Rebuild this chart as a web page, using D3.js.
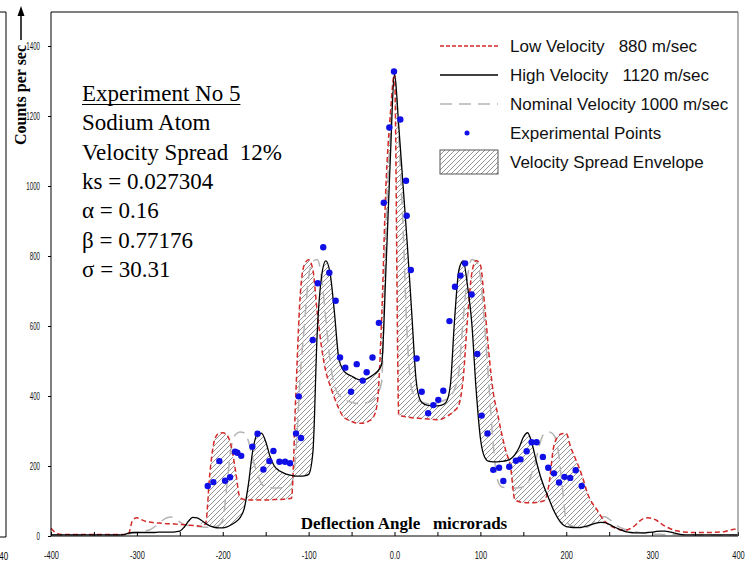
<!DOCTYPE html>
<html lang="en">
<head>
<meta charset="UTF-8">
<title>Experiment No 5 - Sodium Atom</title>
<script src="https://d3js.org/d3.v7.min.js"></script>
<style>
  html, body { margin: 0; padding: 0; background: #fff; }
  svg { display: block; }
  .tick text { font-family: "Liberation Sans", Arial, sans-serif; font-size: 11px; fill: #111; }
  .serif { font-family: "Liberation Serif", "Times New Roman", serif; fill: #000; white-space: pre; }
  .legend text { font-family: "Liberation Sans", Arial, sans-serif; font-size: 17px; fill: #111; white-space: pre; }
</style>
</head>
<body>
<div id="chart"></div>
<script>
// deflection angle grid, microrads (step 5)
const angles = d3.range(-400, 401, 5);

// counts per sec, one value per angle (rows of 10 = 50 microrads)
const highVelocity = [
  3, 3, 3, 3, 3, 3, 3, 3, 3, 3,                  // -400
  3, 3, 3, 3, 3, 3, 3, 4, 8, 10,                 // -350
  10, 10, 10, 10, 10, 11, 11, 11, 11, 12,        // -300
  14, 25, 42, 53, 52, 45, 36, 29, 25, 23,        // -250
  23, 26, 32, 40, 52, 78, 150, 245, 290, 294,    // -200
  270, 228, 200, 188, 181, 176, 173, 171, 171, 172, // -150
  176, 240, 580, 740, 786, 751, 640, 510, 475, 463, // -100
  457, 450, 446, 447, 452, 460, 470, 490, 760, 1070, // -50
  1320, 1170, 1000, 830, 640, 450, 388, 376, 373, 372, // 0
  372, 374, 382, 430, 620, 760, 786, 715, 608, 420,  // 50
  280, 225, 213, 212, 212, 213, 215, 220, 232, 252,  // 100
  282, 295, 265, 215, 170, 135, 105, 75, 52, 35,     // 150
  27, 25, 24, 24, 26, 29, 33, 37, 39, 38,            // 200
  33, 27, 21, 16, 12, 10, 9, 9, 9, 10,               // 250
  11, 13, 14, 14, 12, 9, 6, 4, 3, 3,                 // 300
  3, 3, 3, 3, 3, 3, 3, 3, 3, 3,                      // 350
  3                                                   // 400
];

const lowVelocity = [
  22, 10, 5, 4, 4, 4, 4, 4, 4, 4,
  4, 4, 4, 4, 4, 4, 4, 4, 5, 45,
  52, 47, 42, 40, 38, 37, 36, 35, 35, 34,
  33, 32, 31, 30, 29, 28, 35, 180, 270, 293,
  295, 288, 255, 185, 110, 104, 103, 103, 103, 103,
  103, 103, 104, 104, 105, 106, 108, 400, 680, 775,
  789, 760, 640, 540, 470, 430, 395, 365, 342, 333,
  327, 323, 322, 323, 328, 338, 380, 620, 1000, 1200,
  1320, 345, 342, 340, 338, 337, 336, 335, 334, 333,
  332, 334, 340, 348, 358, 375, 450, 620, 750, 787,
  775, 660, 520, 410, 350, 290, 240, 200, 105, 98,
  96, 95, 95, 96, 98, 102, 150, 250, 283, 292,
  293, 255, 225, 195, 160, 120, 95, 78, 58, 42,
  32, 25, 20, 17, 17, 22, 30, 42, 50, 52,
  50, 45, 36, 28, 22, 17, 14, 12, 11, 10,
  10, 10, 10, 10, 10, 11, 12, 13, 16, 19,
  22
];

const nominalVelocity = [
  3, 3, 3, 3, 3, 3, 3, 3, 3, 3,
  3, 3, 3, 3, 3, 3, 3, 4, 6, 8,
  10, 12, 15, 18, 25, 35, 45, 52, 54, 48,
  40, 33, 30, 28, 27, 26, 25, 25, 26, 30,
  45, 150, 255, 290, 297, 295, 270, 220, 180, 150,
  140, 138, 137, 137, 138, 140, 150, 230, 450, 600,
  740, 785, 790, 740, 620, 500, 430, 405, 392, 386,
  382, 379, 378, 379, 383, 390, 405, 440, 880, 1140,
  1320, 1140, 880, 560, 420, 395, 385, 380, 378, 378,
  380, 385, 390, 400, 420, 470, 620, 740, 790, 785,
  740, 600, 430, 260, 160, 140, 138, 137, 137, 138,
  140, 150, 180, 220, 270, 295, 297, 290, 255, 150,
  45, 30, 26, 25, 25, 26, 35, 48, 54, 55,
  48, 38, 28, 22, 18, 15, 12, 10, 8, 7,
  6, 5, 5, 4, 4, 4, 4, 3, 3, 3,
  3, 3, 3, 3, 3, 3, 3, 3, 3, 3,
  3
];

// experimental points
const pointAngle = [
  -217.5, -211, -204, -197.3, -191.5, -185.7, -183, -178.5, -165.5, -159.5,
  -152.7, -145.7, -141, -134, -127.5, -121.7, -114.7, -108.8, -111.5,
  -95.2, -89.4, -83, -75.9, -68.5, -63.4, -57.3, -50.6, -44, -37, -32.4,
  -25.6, -18.2, -12.5, -6, -0.6,
  6.8, 13.4, 14.2, 19, 25.8, 31.7, 39.2, 45.2, 51, 56.8,
  64, 70.4, 76.8, 82.2, 89.8, 96.4, 101.5, 108.3, 115, 121.8,
  126.7, 133.6, 141.4, 146.7, 153.9, 159.7, 165.5, 172.8, 179, 185.7,
  191.6, 198, 204.6, 211, 218
];
const pointCounts = [
  143, 154, 214, 158, 168, 241, 238, 229, 255, 292,
  190, 214, 243, 212, 212, 208, 293, 280, 399,
  560, 722, 825, 752, 672, 510, 481, 412, 491, 444, 468,
  510, 609, 952, 1167, 1327,
  1190, 1015, 915, 760, 507, 412, 351, 374, 389, 415,
  614, 712, 744, 779, 690, 520, 344, 293, 189, 195,
  157, 198, 215, 219, 242, 268, 268, 226, 195, 179,
  153, 169, 166, 188, 143
];

const envelopeRange = [-225, 245];

const xTicks = [-400, -300, -200, -100, 0, 100, 200, 300, 400];
const xTickLabels = ["-400", "-300", "-200", "-100", "0.0", "100", "200", "300", "400"];
const xMinorTicks = [-350, -250, -150, -50, 50, 150, 250, 350];
const yTicks = [0, 200, 400, 600, 800, 1000, 1200, 1400];
const yTickLabels = ["0", "200", "400", "600", "800", "1000", "1200", "1400"];

const notes = ["Experiment No 5", "Sodium Atom", "Velocity Spread  12%", "ks = 0.027304",
               "\u03b1 = 0.16", "\u03b2 = 0.77176", "\u03c3 = 30.31"];
const legendLabels = ["Low Velocity   880 m/sec", "High Velocity   1120 m/sec",
                      "Nominal Velocity 1000 m/sec", "Experimental Points", "Velocity Spread Envelope"];

const width = 755, height = 562;
const plotLeft = 51, plotRight = 738, plotTop = 12, plotBottom = 536;

const x = d3.scaleLinear().domain([-400, 400]).range([plotLeft, plotRight]);
const y = d3.scaleLinear().domain([0, 1500]).range([plotBottom, 11]);

const svg = d3.select("#chart").append("svg")
    .attr("width", width)
    .attr("height", height);

svg.append("defs").append("pattern")
    .attr("id", "hatch")
    .attr("patternUnits", "userSpaceOnUse")
    .attr("width", 5).attr("height", 5)
  .append("path")
    .attr("d", "M-1,1 l2,-2 M0,5 l5,-5 M4,6 l2,-2")
    .attr("stroke", "#7a7a7a")
    .attr("stroke-width", 0.8);

const rows = angles.map((a, i) => ({
    a: a, low: lowVelocity[i], high: highVelocity[i], nom: nominalVelocity[i]
}));

// envelope between low and high velocity curves
const envelope = d3.area()
    .defined(d => d.a >= envelopeRange[0] && d.a <= envelopeRange[1])
    .x(d => x(d.a))
    .y0(d => y(d.low))
    .y1(d => y(d.high))
    .curve(d3.curveMonotoneX);

svg.append("path")
    .datum(rows)
    .attr("d", envelope)
    .attr("fill", "url(#hatch)");

const lineOf = key => d3.line()
    .x(d => x(d.a))
    .y(d => y(d[key]))
    .curve(d3.curveMonotoneX);

svg.append("path").datum(rows)
    .attr("d", lineOf("nom"))
    .attr("fill", "none")
    .attr("stroke", "#b4b4b4")
    .attr("stroke-width", 1.5)
    .attr("stroke-dasharray", "12,7");

svg.append("path").datum(rows)
    .attr("d", lineOf("low"))
    .attr("fill", "none")
    .attr("stroke", "#d42a2a")
    .attr("stroke-width", 1.5)
    .attr("stroke-dasharray", "5,3");

svg.append("path").datum(rows)
    .attr("d", lineOf("high"))
    .attr("fill", "none")
    .attr("stroke", "#000")
    .attr("stroke-width", 1.3);

svg.append("g").selectAll("circle")
    .data(pointAngle)
    .join("circle")
    .attr("cx", d => x(d))
    .attr("cy", (d, i) => y(pointCounts[i]))
    .attr("r", 3.2)
    .attr("fill", "#1010e6");

// axes
const xAxis = svg.append("g")
    .attr("transform", `translate(0,${plotBottom})`)
    .call(d3.axisBottom(x).tickValues(xTicks)
        .tickFormat((d, i) => xTickLabels[i])
        .tickSize(-4).tickPadding(15));
xAxis.select(".domain").remove();
xAxis.selectAll("text").attr("transform", "scale(0.68,1)");

const xMinor = svg.append("g")
    .attr("transform", `translate(0,${plotBottom})`)
    .call(d3.axisBottom(x).tickValues(xMinorTicks).tickFormat("").tickSize(-4));
xMinor.select(".domain").remove();

const yAxis = svg.append("g")
    .attr("transform", `translate(${plotLeft},0)`)
    .call(d3.axisLeft(y).tickValues(yTicks)
        .tickFormat((d, i) => yTickLabels[i])
        .tickSize(3).tickPadding(8));
yAxis.select(".domain").remove();
yAxis.selectAll("text")
    .attr("x", -11 / 0.56)
    .attr("transform", "scale(0.56,1)");

// frame
svg.append("path")
    .attr("d", `M${plotLeft},${plotBottom}H${plotRight}M${plotLeft},${plotTop}V${plotBottom}M${plotLeft},${plotTop}H${plotRight}`)
    .attr("stroke", "#000").attr("fill", "none");
svg.append("line")
    .attr("x1", plotRight).attr("x2", plotRight).attr("y1", plotTop).attr("y2", plotBottom)
    .attr("stroke", "#666");

// cropped neighbour frame at the left edge
svg.append("path")
    .attr("d", "M0,12H6V537H0")
    .attr("stroke", "#000").attr("fill", "none");
svg.append("text")
    .attr("x", -1).attr("y", 560)
    .attr("transform", "scale(0.8,1)")
    .style("font-family", "Liberation Sans, Arial, sans-serif")
    .style("font-size", "10px")
    .text("40");

// y axis title with arrow
svg.append("text")
    .attr("class", "serif")
    .attr("transform", "translate(26,95) rotate(-90)")
    .attr("text-anchor", "middle")
    .style("font-size", "16px")
    .style("font-weight", "bold")
    .text("Counts per sec");
svg.append("line")
    .attr("x1", 21).attr("x2", 21).attr("y1", 40).attr("y2", 14)
    .attr("stroke", "#000").attr("stroke-width", 1.5);
svg.append("path")
    .attr("d", "M17.5,16L21,6L24.5,16Z")
    .attr("fill", "#000");

// x axis title
svg.append("text")
    .attr("class", "serif")
    .attr("x", 404).attr("y", 529)
    .attr("text-anchor", "middle")
    .style("font-size", "17px")
    .style("font-weight", "bold")
    .text("Deflection Angle   microrads");

// experiment notes
const noteText = svg.append("g").selectAll("text")
    .data(notes)
    .join("text")
    .attr("class", "serif")
    .attr("x", 82)
    .attr("y", (d, i) => 101 + i * 29.3)
    .style("font-size", "23px")
    .text(d => d);
const firstLen = noteText.node().getComputedTextLength();
svg.append("line")
    .attr("x1", 82).attr("x2", 82 + firstLen)
    .attr("y1", 104.5).attr("y2", 104.5)
    .attr("stroke", "#000").attr("stroke-width", 1.2);

// legend
const legend = svg.append("g").attr("class", "legend");
const rowY = i => 46 + i * 29;
legend.selectAll("text")
    .data(legendLabels)
    .join("text")
    .attr("x", 510)
    .attr("y", (d, i) => rowY(i) + 6)
    .text(d => d);

legend.append("line")
    .attr("x1", 440).attr("x2", 498).attr("y1", rowY(0)).attr("y2", rowY(0))
    .attr("stroke", "#d42a2a").attr("stroke-width", 1.3).attr("stroke-dasharray", "4,2");
legend.append("line")
    .attr("x1", 440).attr("x2", 498).attr("y1", rowY(1)).attr("y2", rowY(1))
    .attr("stroke", "#000").attr("stroke-width", 1.3);
legend.append("line")
    .attr("x1", 440).attr("x2", 498).attr("y1", rowY(2)).attr("y2", rowY(2))
    .attr("stroke", "#b4b4b4").attr("stroke-width", 1.3).attr("stroke-dasharray", "12,7");
legend.append("circle")
    .attr("cx", 467).attr("cy", rowY(3)).attr("r", 2.5)
    .attr("fill", "#1010e6");
legend.append("rect")
    .attr("x", 440).attr("y", rowY(4) - 12).attr("width", 58).attr("height", 24)
    .attr("fill", "url(#hatch)")
    .attr("stroke", "#555");
</script>
</body>
</html>
